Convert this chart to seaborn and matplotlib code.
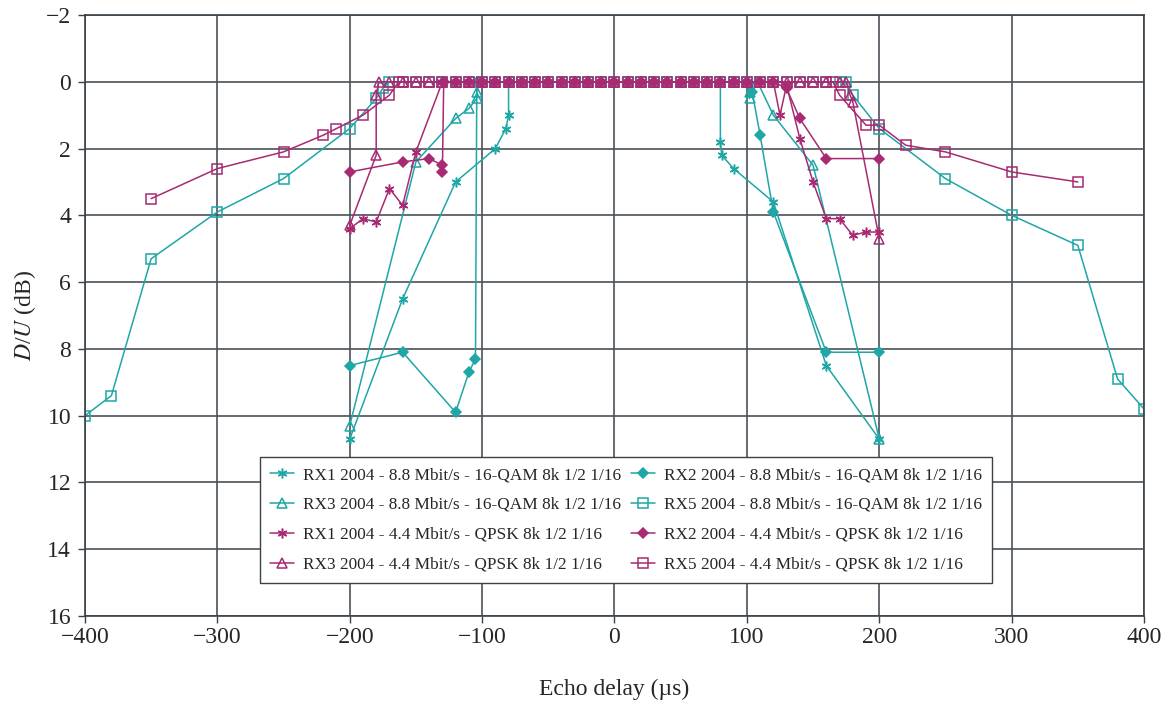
import matplotlib
matplotlib.use("Agg")
import matplotlib.pyplot as plt
import seaborn as sns

# ── Data (echo delay in µs, D/U in dB) ────────────────────────────────────
rx1_qam_x = [-200, -160, -120, -90, -82, -80, -80, -70, -60, -50, -40, -30, -20, -10, 0,
             10, 20, 30, 40, 50, 60, 70, 80, 80, 81, 90, 120, 160, 200]
rx1_qam_y = [10.7, 6.5, 3.0, 2.0, 1.4, 1.0, 0, 0, 0, 0, 0, 0, 0, 0, 0,
             0, 0, 0, 0, 0, 0, 0, 0, 1.8, 2.2, 2.6, 3.6, 8.5, 10.7]

rx3_qam_x = [-200, -150, -120, -110, -104, -104, -103, -90, -80, -70, -60, -50, -40, -30, -20, -10, 0,
             10, 20, 30, 40, 50, 60, 70, 80, 90, 100, 102, 102, 108, 120, 150, 200]
rx3_qam_y = [10.3, 2.4, 1.1, 0.8, 0.5, 0.3, 0, 0, 0, 0, 0, 0, 0, 0, 0, 0, 0,
             0, 0, 0, 0, 0, 0, 0, 0, 0, 0, 0.3, 0.5, 0, 1.0, 2.5, 10.7]

rx2_qam_x = [-200, -160, -120, -110, -105, -104, -100, -90, -80, -70, -60, -50, -40, -30, -20, -10, 0,
             10, 20, 30, 40, 50, 60, 70, 80, 90, 100, 104, 110, 120, 160, 200]
rx2_qam_y = [8.5, 8.1, 9.9, 8.7, 8.3, 0, 0, 0, 0, 0, 0, 0, 0, 0, 0, 0, 0,
             0, 0, 0, 0, 0, 0, 0, 0, 0, 0, 0.3, 1.6, 3.9, 8.1, 8.1]

rx5_qam_x = [-400, -380, -350, -300, -250, -200, -180, -175, -170, -160, -150, -140, -130, -120, -110,
             -100, -90, -80, -70, -60, -50, -40, -30, -20, -10, 0, 10, 20, 30, 40, 50, 60, 70, 80, 90,
             100, 110, 120, 130, 140, 150, 160, 170, 175, 180, 200, 250, 300, 350, 380, 400]
rx5_qam_y = [10.0, 9.4, 5.3, 3.9, 2.9, 1.4, 0.5, 0.2, 0, 0, 0, 0, 0, 0, 0,
             0, 0, 0, 0, 0, 0, 0, 0, 0, 0, 0, 0, 0, 0, 0, 0, 0, 0, 0, 0,
             0, 0, 0, 0, 0, 0, 0, 0, 0, 0.4, 1.4, 2.9, 4.0, 4.9, 8.9, 9.8]

rx1_qpsk_x = [-200, -190, -180, -170, -160, -150, -130, -120, -110, -100, -90, -80, -70, -60, -50,
              -40, -30, -20, -10, 0, 10, 20, 30, 40, 50, 60, 70, 80, 90, 100, 110, 120,
              125, 130, 140, 150, 160, 170, 180, 190, 200]
rx1_qpsk_y = [4.4, 4.1, 4.2, 3.2, 3.7, 2.1, 0, 0, 0, 0, 0, 0, 0, 0, 0,
              0, 0, 0, 0, 0, 0, 0, 0, 0, 0, 0, 0, 0, 0, 0, 0, 0,
              1.0, 0.1, 1.7, 3.0, 4.1, 4.1, 4.6, 4.5, 4.5]

rx3_qpsk_x = [-200, -180, -180, -178, -170, -160, -150, -140, -130, -120, -110, -100, -90, -80, -70,
              -60, -50, -40, -30, -20, -10, 0, 10, 20, 30, 40, 50, 60, 70, 80, 90, 100, 110, 120,
              130, 140, 150, 160, 170, 175, 178, 180, 200]
rx3_qpsk_y = [4.3, 2.2, 0.4, 0, 0, 0, 0, 0, 0, 0, 0, 0, 0, 0, 0,
              0, 0, 0, 0, 0, 0, 0, 0, 0, 0, 0, 0, 0, 0, 0, 0, 0, 0, 0,
              0, 0, 0, 0, 0, 0, 0.4, 0.6, 4.7]

rx2_qpsk_x = [-200, -160, -140, -130, -130, -129, -120, -110, -100, -90, -80, -70, -60, -50, -40,
              -30, -20, -10, 0, 10, 20, 30, 40, 50, 60, 70, 80, 90, 100, 110, 120,
              130, 140, 160, 200]
rx2_qpsk_y = [2.7, 2.4, 2.3, 2.5, 2.7, 0, 0, 0, 0, 0, 0, 0, 0, 0, 0,
              0, 0, 0, 0, 0, 0, 0, 0, 0, 0, 0, 0, 0, 0, 0, 0,
              0.2, 1.1, 2.3, 2.3]

rx5_qpsk_x = [-350, -300, -250, -220, -210, -190, -170, -163, -160, -150, -140, -130, -120, -110,
              -100, -90, -80, -70, -60, -50, -40, -30, -20, -10, 0, 10, 20, 30, 40, 50, 60, 70, 80, 90,
              100, 110, 120, 130, 140, 150, 160, 165, 170, 190, 200, 220, 250, 300, 350]
rx5_qpsk_y = [3.5, 2.6, 2.1, 1.6, 1.4, 1.0, 0.4, 0, 0, 0, 0, 0, 0, 0,
              0, 0, 0, 0, 0, 0, 0, 0, 0, 0, 0, 0, 0, 0, 0, 0, 0, 0, 0, 0,
              0, 0, 0, 0, 0, 0, 0, 0, 0.4, 1.3, 1.3, 1.9, 2.1, 2.7, 3.0]

x_ticks = [-400, -300, -200, -100, 0, 100, 200, 300, 400]
y_ticks = [-2, 0, 2, 4, 6, 8, 10, 12, 14, 16]

TEAL = "#1fa6a6"
MAGENTA = "#a82a72"
STAR = (6, 2, 0)

# (label, x, y, colour, marker, filled)
series = [
    ("RX1 2004 - 8.8 Mbit/s - 16-QAM 8k 1/2 1/16", rx1_qam_x, rx1_qam_y, TEAL, STAR, True),
    ("RX3 2004 - 8.8 Mbit/s - 16-QAM 8k 1/2 1/16", rx3_qam_x, rx3_qam_y, TEAL, "^", False),
    ("RX2 2004 - 8.8 Mbit/s - 16-QAM 8k 1/2 1/16", rx2_qam_x, rx2_qam_y, TEAL, "D", True),
    ("RX5 2004 - 8.8 Mbit/s - 16-QAM 8k 1/2 1/16", rx5_qam_x, rx5_qam_y, TEAL, "s", False),
    ("RX1 2004 - 4.4 Mbit/s - QPSK 8k 1/2 1/16", rx1_qpsk_x, rx1_qpsk_y, MAGENTA, STAR, True),
    ("RX3 2004 - 4.4 Mbit/s - QPSK 8k 1/2 1/16", rx3_qpsk_x, rx3_qpsk_y, MAGENTA, "^", False),
    ("RX2 2004 - 4.4 Mbit/s - QPSK 8k 1/2 1/16", rx2_qpsk_x, rx2_qpsk_y, MAGENTA, "D", True),
    ("RX5 2004 - 4.4 Mbit/s - QPSK 8k 1/2 1/16", rx5_qpsk_x, rx5_qpsk_y, MAGENTA, "s", False),
]
legend_order = [0, 1, 4, 5, 2, 3, 6, 7]

# ── Style ─────────────────────────────────────────────────────────────────
sns.set_theme(style="white")
plt.rcParams["font.family"] = ["Liberation Serif", "DejaVu Serif"]
plt.rcParams["mathtext.fontset"] = "stix"

fig = plt.figure(figsize=(11.7, 7.07), dpi=100)
ax = fig.add_axes([0.0726, 0.1287, 0.9052, 0.8501])

for label, xs, ys, color, marker, filled in series:
    size = 5.5 if marker == "D" else 7
    sns.lineplot(x=xs, y=ys, ax=ax, sort=False, estimator=None, color=color,
                 linewidth=1.1, marker=marker, markersize=size,
                 markerfacecolor=color if filled else "none",
                 markeredgecolor=color, markeredgewidth=1.1, label=label)

ax.set_xlim(-400, 400)
ax.set_ylim(16, -2)
ax.set_xticks(x_ticks)
ax.set_yticks(y_ticks)
ax.grid(True, color="#4a5258", linewidth=1.2)
ax.set_axisbelow(True)
for sp in ax.spines.values():
    sp.set_color("#3a4248")
    sp.set_linewidth(1.2)
ax.tick_params(axis="both", which="major", labelsize=17, length=5, width=1.0,
               color="#3a4248", direction="out", bottom=True, left=True)
ax.tick_params(axis="x", pad=3)
ax.tick_params(axis="y", pad=5)

ax.set_xlabel("Echo delay (µs)", fontsize=17, labelpad=22)
ax.set_ylabel(r"$D$/$U$ (dB)", fontsize=17, labelpad=6)

handles, labels = ax.get_legend_handles_labels()
leg = ax.legend([handles[i] for i in legend_order], [labels[i] for i in legend_order],
                ncol=2, loc="center", bbox_to_anchor=(0.511, 0.16), fontsize=12.4,
                frameon=True, fancybox=False, edgecolor="#3a4248", framealpha=1,
                handlelength=1.4, handletextpad=0.5, columnspacing=0.6,
                labelspacing=0.8, borderpad=0.6)
leg.get_frame().set_linewidth(1.0)

fig.savefig("out.png", dpi=100)
